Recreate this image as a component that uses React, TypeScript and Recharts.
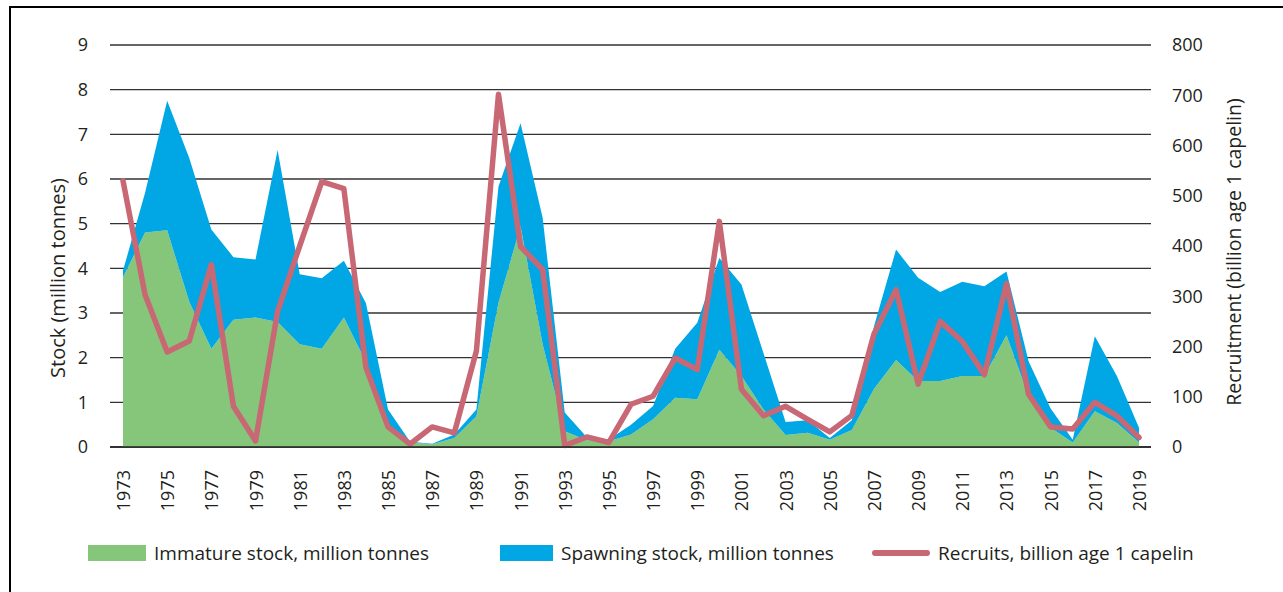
import React from "react";
import { ComposedChart, Area, Line, XAxis, YAxis, CartesianGrid } from "recharts";

const years = [
  1973, 1974, 1975, 1976, 1977, 1978, 1979, 1980, 1981, 1982, 1983, 1984, 1985, 1986, 1987, 1988,
  1989, 1990, 1991, 1992, 1993, 1994, 1995, 1996, 1997, 1998, 1999, 2000, 2001, 2002, 2003, 2004,
  2005, 2006, 2007, 2008, 2009, 2010, 2011, 2012, 2013, 2014, 2015, 2016, 2017, 2018, 2019,
];

// Immature stock, million tonnes
const immatureStock = [
  3.8, 4.8, 4.85, 3.25, 2.2, 2.85, 2.9, 2.8, 2.3, 2.2, 2.9, 1.9, 0.45, 0.1, 0.06, 0.2,
  0.69, 3.23, 4.94, 2.3, 0.35, 0.15, 0.13, 0.28, 0.62, 1.1, 1.07, 2.18, 1.59, 0.84, 0.27, 0.32,
  0.16, 0.38, 1.3, 1.95, 1.48, 1.48, 1.59, 1.59, 2.5, 1.14, 0.43, 0.1, 0.8, 0.54, 0.1,
];

// Spawning stock, million tonnes (stacked on immature stock)
const spawningStock = [
  0.15, 0.89, 2.9, 3.22, 2.67, 1.4, 1.3, 3.85, 1.57, 1.58, 1.27, 1.32, 0.39, 0.02, 0.01, 0.08,
  0.15, 2.6, 2.31, 2.83, 0.42, 0.07, 0.04, 0.22, 0.3, 1.1, 1.71, 2.05, 2.05, 1.26, 0.29, 0.28,
  0.04, 0.22, 1.4, 2.47, 2.31, 1.99, 2.11, 2.01, 1.43, 0.78, 0.43, 0.06, 1.68, 1.05, 0.33,
];

// Recruits, billion age 1 capelin
const recruits = [
  530, 303, 189, 211, 363, 81, 12, 270, 400, 528, 514, 158, 40, 6, 40, 28,
  191, 702, 399, 353, 3, 20, 9, 85, 101, 177, 154, 449, 115, 62, 81, 55,
  30, 63, 225, 313, 125, 250, 210, 144, 325, 105, 40, 36, 89, 62, 19,
];

const leftTicks = [0, 1, 2, 3, 4, 5, 6, 7, 8, 9];
const rightTicks = [0, 100, 200, 300, 400, 500, 600, 700, 800];

const GREEN = "#85C67A";
const BLUE = "#00A7E4";
const RED = "#C86875";
const TEXT = "#231f20";
const FONT = "'Open Sans', sans-serif";

const data = years.map((y, i) => ({
  year: y,
  immature: immatureStock[i],
  spawning: spawningStock[i],
  recruits: recruits[i],
}));

const XTick = (props: any) => {
  const { x, y, payload } = props;
  const ty = y + 23;
  return (
    <text
      x={x}
      y={ty}
      transform={`rotate(-90 ${x} ${ty})`}
      textAnchor="end"
      dominantBaseline="central"
      fontSize={18}
      fontFamily={FONT}
      fill={TEXT}
    >
      {payload.value}
    </text>
  );
};

const LeftTitle = (props: any) => {
  const vb = props.viewBox || { x: 0, y: 45, width: 110, height: 402 };
  const cx = vb.x + 57;
  const cy = vb.y + vb.height / 2 + 32;
  return (
    <text
      x={cx}
      y={cy}
      transform={`rotate(-90 ${cx} ${cy})`}
      textAnchor="middle"
      dominantBaseline="central"
      fontSize={20}
      fontFamily={FONT}
      fill={TEXT}
    >
      Stock (million tonnes)
    </text>
  );
};

const RightTitle = (props: any) => {
  const vb = props.viewBox || { x: 1151, y: 45, width: 132, height: 402 };
  const cx = vb.x + 82;
  const cy = vb.y + vb.height / 2 + 6;
  return (
    <text
      x={cx}
      y={cy}
      transform={`rotate(-90 ${cx} ${cy})`}
      textAnchor="middle"
      dominantBaseline="central"
      fontSize={19.5}
      fontFamily={FONT}
      fill={TEXT}
    >
      Recruitment (billion age 1 capelin)
    </text>
  );
};

const legendItems = [
  { label: "Immature stock, million tonnes", color: GREEN, kind: "rect", left: 88, width: 58 },
  { label: "Spawning stock, million tonnes", color: BLUE, kind: "rect", left: 500, width: 53 },
  { label: "Recruits, billion age 1 capelin", color: RED, kind: "line", left: 872, width: 58 },
];

export default function App() {
  return (
    <div
      style={{
        position: "absolute",
        left: 0,
        top: 0,
        width: 1283,
        height: 592,
        background: "#fff",
        overflow: "hidden",
        fontFamily: FONT,
      }}
    >
      <div
        style={{
          position: "absolute",
          left: 9,
          top: 6,
          width: 1300,
          height: 620,
          borderLeft: "2px solid #000",
          borderTop: "2px solid #000",
        }}
      />
      <div style={{ position: "absolute", left: 0, top: 0 }}>
        <ComposedChart
          width={1283}
          height={592}
          data={data}
          margin={{ top: 45, right: 0, bottom: 85, left: 0 }}
        >
          <CartesianGrid vertical={false} stroke="#333" strokeWidth={1.3} yAxisId="left" />
          <XAxis
            dataKey="year"
            height={60}
            interval={1}
            padding={{ left: 13, right: 12 }}
            tick={<XTick />}
            tickSize={0}
            tickMargin={0}
            tickLine={false}
            axisLine={{ stroke: "#222", strokeWidth: 1.6 }}
          />
          <YAxis
            yAxisId="left"
            orientation="left"
            width={110}
            domain={[0, 9]}
            ticks={leftTicks}
            interval={0}
            tickSize={0}
            tickMargin={22}
            tickLine={false}
            axisLine={false}
            tick={{ fontSize: 18, fill: TEXT, fontFamily: FONT }}
            label={(p: any) => <LeftTitle {...p} />}
          />
          <YAxis
            yAxisId="right"
            orientation="right"
            width={132}
            domain={[0, 800]}
            ticks={rightTicks}
            interval={0}
            tickSize={0}
            tickMargin={21}
            tickLine={false}
            axisLine={false}
            tick={{ fontSize: 18, fill: TEXT, fontFamily: FONT, textAnchor: "start" }}
            label={(p: any) => <RightTitle {...p} />}
          />
          <Area
            yAxisId="left"
            type="linear"
            dataKey="immature"
            stackId="stock"
            stroke="none"
            fill={GREEN}
            fillOpacity={1}
            isAnimationActive={false}
            dot={false}
            activeDot={false}
          />
          <Area
            yAxisId="left"
            type="linear"
            dataKey="spawning"
            stackId="stock"
            stroke="none"
            fill={BLUE}
            fillOpacity={1}
            isAnimationActive={false}
            dot={false}
            activeDot={false}
          />
          <Line
            yAxisId="right"
            type="linear"
            dataKey="recruits"
            stroke={RED}
            strokeWidth={5.5}
            strokeLinejoin="round"
            strokeLinecap="round"
            dot={false}
            activeDot={false}
            isAnimationActive={false}
          />
        </ComposedChart>
      </div>
      {legendItems.map((it) => (
        <div
          key={it.label}
          style={{
            position: "absolute",
            left: it.left,
            top: 541,
            height: 24,
            display: "flex",
            alignItems: "center",
            whiteSpace: "nowrap",
          }}
        >
          {it.kind === "rect" ? (
            <span style={{ display: "inline-block", width: it.width, height: 16, background: it.color }} />
          ) : (
            <span
              style={{
                display: "inline-block",
                width: it.width,
                height: 6,
                borderRadius: 3,
                background: it.color,
              }}
            />
          )}
          <span style={{ marginLeft: 8, fontSize: 19, color: TEXT, fontFamily: FONT }}>{it.label}</span>
        </div>
      ))}
    </div>
  );
}
